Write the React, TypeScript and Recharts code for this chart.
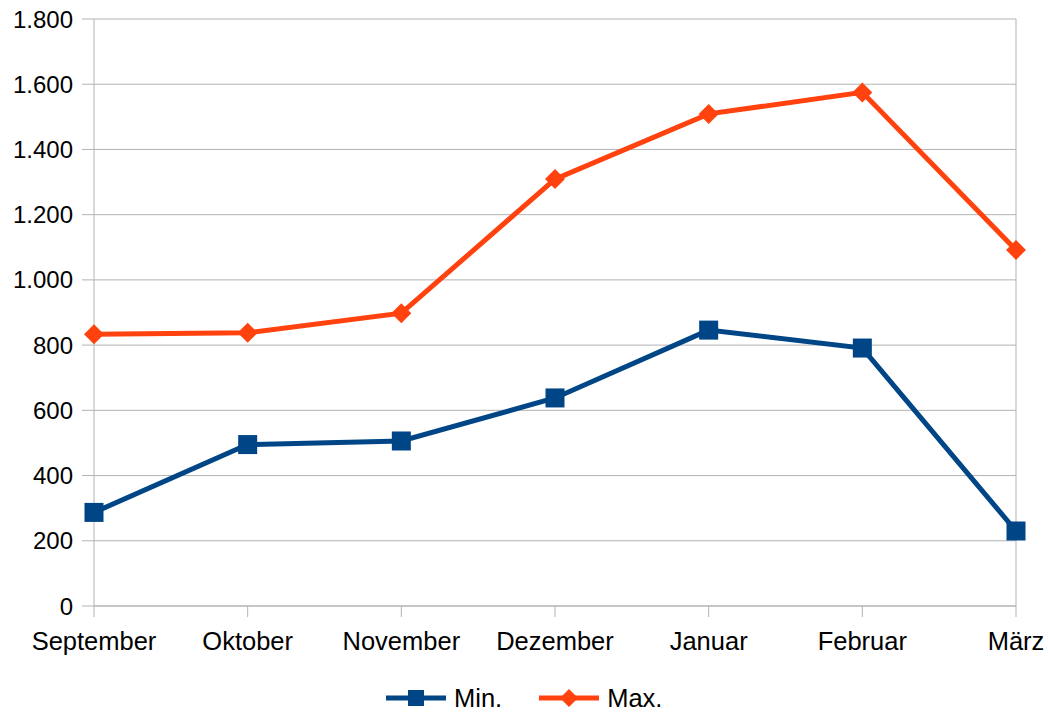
import { CartesianGrid, Line, LineChart, ReferenceLine, XAxis, YAxis } from "recharts";

const months = ["September", "Oktober", "November", "Dezember", "Januar", "Februar", "März"];
const minValues = [287, 495, 506, 638, 846, 791, 230];
const maxValues = [833, 838, 898, 1309, 1509, 1575, 1092];
const yTicks = [0, 200, 400, 600, 800, 1000, 1200, 1400, 1600, 1800];

const BLUE = "#004586";
const ORANGE = "#ff420e";
const GRID = "#b3b3b3";
const FONT = "'Liberation Sans', Arial, sans-serif";

const data = months.map((month, i) => ({ month, min: minValues[i], max: maxValues[i] }));

const formatThousands = (value: number) =>
  String(value).replace(/\B(?=(\d{3})+(?!\d))/g, ".");

function SquareDot(props: any) {
  const { cx, cy } = props;
  if (cx == null || cy == null) return null;
  return <rect x={cx - 9.5} y={cy - 9.5} width={19} height={19} fill={BLUE} />;
}

function DiamondDot(props: any) {
  const { cx, cy } = props;
  if (cx == null || cy == null) return null;
  const r = 10;
  return (
    <polygon
      points={`${cx},${cy - r} ${cx + r},${cy} ${cx},${cy + r} ${cx - r},${cy}`}
      fill={ORANGE}
    />
  );
}

function LegendItem({ color, label, shape }: { color: string; label: string; shape: "square" | "diamond" }) {
  return (
    <div style={{ display: "flex", alignItems: "center", marginRight: 36 }}>
      <svg width={62} height={20}>
        <line x1={1} y1={10} x2={61} y2={10} stroke={color} strokeWidth={5} />
        {shape === "square" ? (
          <rect x={23} y={2} width={16} height={16} fill={color} />
        ) : (
          <polygon points="31,1 40,10 31,19 22,10" fill={color} />
        )}
      </svg>
      <span style={{ marginLeft: 7, fontSize: 25.5, fontFamily: FONT, color: "#000" }}>{label}</span>
    </div>
  );
}

export default function App() {
  return (
    <div style={{ position: "absolute", left: 0, top: 0, width: 1048, height: 712, background: "#fff" }}>
      <LineChart
        width={1048}
        height={712}
        data={data}
        margin={{ top: 19, right: 32, bottom: 46, left: 0 }}
      >
        <CartesianGrid stroke={GRID} strokeWidth={1} vertical={false} />
        <XAxis
          dataKey="month"
          height={60}
          stroke={GRID}
          tickSize={11}
          tickMargin={15}
          interval={0}
          tick={{ fill: "#000", fontSize: 25.5, fontFamily: FONT }}
        />
        <YAxis
          width={94}
          domain={[0, 1800]}
          ticks={yTicks}
          stroke={GRID}
          tickSize={12}
          tickMargin={9}
          tickFormatter={formatThousands}
          tick={{ fill: "#000", fontSize: 24, fontFamily: FONT }}
        />
        <ReferenceLine x="März" stroke={GRID} strokeWidth={1} />
        <Line
          type="linear"
          dataKey="min"
          stroke={BLUE}
          strokeWidth={5}
          dot={<SquareDot />}
          activeDot={false}
          isAnimationActive={false}
        />
        <Line
          type="linear"
          dataKey="max"
          stroke={ORANGE}
          strokeWidth={5}
          dot={<DiamondDot />}
          activeDot={false}
          isAnimationActive={false}
        />
      </LineChart>
      <div
        style={{
          position: "absolute",
          left: 385,
          top: 684,
          display: "flex",
          alignItems: "center",
          lineHeight: "28px",
        }}
      >
        <LegendItem color={BLUE} label="Min." shape="square" />
        <LegendItem color={ORANGE} label="Max." shape="diamond" />
      </div>
    </div>
  );
}
